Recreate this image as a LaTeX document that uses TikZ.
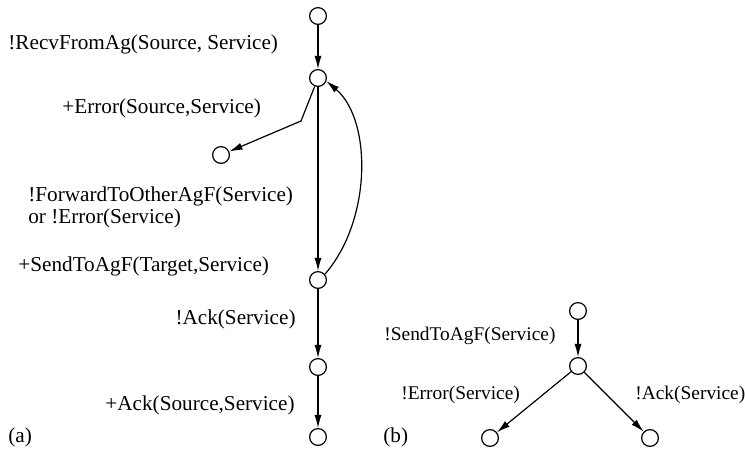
\documentclass[tikz,border=0pt]{standalone}
\usepackage{fontspec}
\setmainfont{Liberation Serif}
\usetikzlibrary{arrows.meta}
\begin{document}
\begin{tikzpicture}[x=0.5pt,y=-0.5pt,
  st/.style={circle,draw,line width=0.6pt,minimum size=8.4pt,inner sep=0pt},
  lbl/.style={anchor=west,inner sep=0pt,font=\fontsize{10.6pt}{11pt}\selectfont},
  lblb/.style={anchor=west,inner sep=0pt,font=\fontsize{9.7pt}{11pt}\selectfont},
  tr/.style={line width=0.6pt,-{Latex[length=6.6pt,width=3.6pt]}}]
\useasboundingbox (0,0) rectangle (745,452);
% (a)
\node[st] (n1) at (318,16) {};
\node[st] (n2) at (318,78) {};
\node[st] (e1) at (221,155) {};
\node[st] (n3) at (318,280) {};
\node[st] (n4) at (318,367) {};
\node[st] (n5) at (318,437) {};
\coordinate (bend) at (301,121);
\draw[tr] (n1) -- (n2);
\draw[tr] (n2) -- (bend) -- (e1);
\draw[tr] (n2) -- (n3);
\draw[tr] (n3.40) .. controls (372,220) and (372,120) .. (n2.-20);
\draw[tr] (n3) -- (n4);
\draw[tr] (n4) -- (n5);
\node[lbl] (l1) at (8,44) {!RecvFromAg(Source, Service)};
\node[lbl] (l2) at (62,108) {+Error(Source,Service)};
\node[lbl,align=left] (l3) at (28,207) {!ForwardToOtherAgF(Service)\\or !Error(Service)};
\node[lbl] (l4) at (18,266) {+SendToAgF(Target,Service)};
\node[lbl,anchor=east] (l5) at (296,319) {!Ack(Service)};
\node[lbl,anchor=east] (l6) at (295,405) {+Ack(Source,Service)};
\node[lbl] (la) at (8,437) {(a)};
% (b)
\node[st] (b1) at (578,311) {};
\node[st] (b2) at (578,366) {};
\node[st] (b3) at (490,438) {};
\node[st] (b4) at (650,438) {};
\draw[tr] (b1) -- (b2);
\draw[tr] (b2) -- (b3);
\draw[tr] (b2) -- (b4);
\node[lblb] (m1) at (384,336) {!SendToAgF(Service)};
\node[lblb] (m2) at (401,395) {!Error(Service)};
\node[lblb] (m3) at (635,395) {!Ack(Service)};
\node[lbl] (lb) at (383,437) {(b)};
\end{tikzpicture}
\end{document}
